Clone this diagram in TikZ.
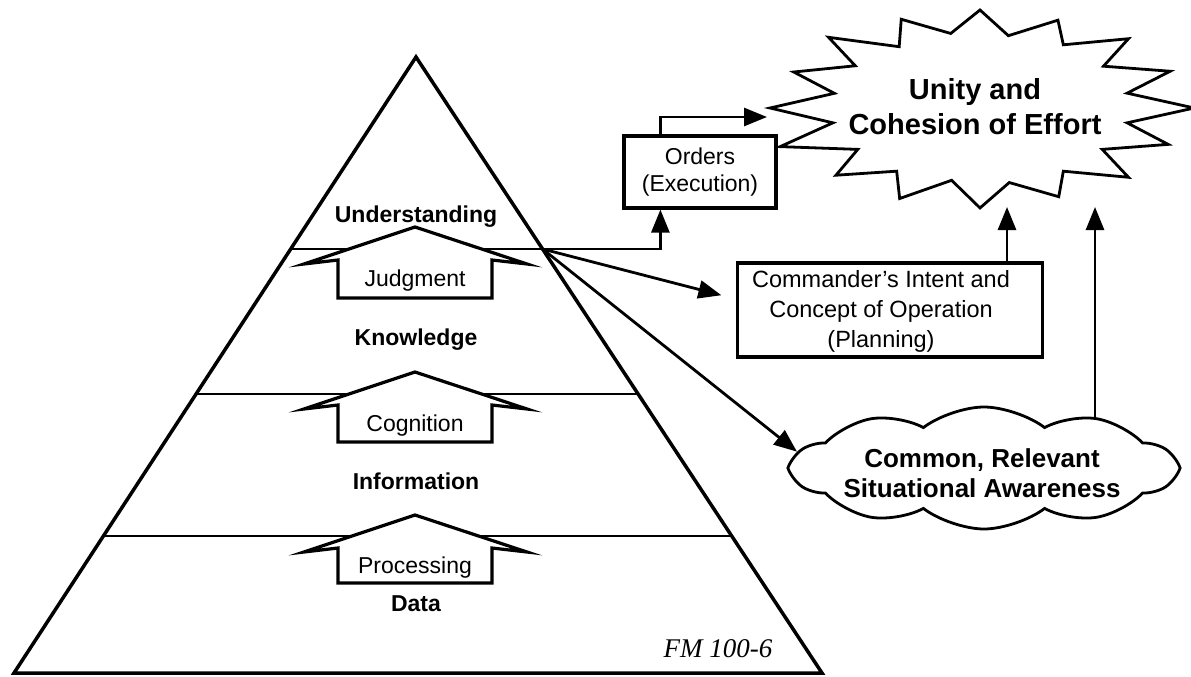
\documentclass[tikz,border=0pt]{standalone}
\usepackage{fontspec}
\setmainfont{Liberation Sans}
\newfontfamily\fmfont{Liberation Serif}
\usetikzlibrary{arrows.meta,shapes.symbols,calc}
\begin{document}
\begin{tikzpicture}[x=1pt,y=-1pt,
  lvl/.style={font=\fontsize{23}{28}\selectfont\bfseries, anchor=base},
  txt/.style={font=\fontsize{23}{27}\selectfont, align=center},
  box/.style={draw, line width=3.2pt, fill=white, inner sep=0pt},
  arr/.style={line width=2.8pt, -{Triangle[length=23pt,width=18pt]}},
  blk/.style={draw, line width=3.2pt, fill=white, line join=miter}]
\useasboundingbox (0,0) rectangle (1191,677);
% pyramid
\coordinate (apex) at (416,57);
\coordinate (bl) at (14,673);
\coordinate (br) at (822,673);
\draw[line width=3.5pt, line join=miter] (apex) -- (bl) -- (br) -- cycle;
\foreach \t in {0.3117,0.5471,0.7776}
  \draw[line width=2.4pt] ($(apex)!\t!(bl)$) -- ($(apex)!\t!(br)$);
\coordinate (P) at ($(apex)!0.3117!(br)$);
% block arrows
\foreach \py/\by/\lab/\nm in {227/298/Judgment/ja,372/442/Cognition/ca,515/583/Processing/pa}{
  \draw[blk] (415,\py) -- (527,\py+37) -- (492,\py+33) -- (492,\by) -- (338,\by) -- (338,\py+33) -- (304,\py+37) -- cycle;
  \node[txt] (\nm) at (415,{(\py+37+\by)/2}) {\lab};
}
% level labels
\node[lvl] (und) at (416,222) {Understanding};
\node[lvl] (kno) at (416,345) {Knowledge};
\node[lvl] (inf) at (416,489) {Information};
\node[lvl] (dat) at (416,611) {Data};
\node[font=\fmfont\itshape\fontsize{27}{30}\selectfont, anchor=base] (fm) at (718,657) {FM 100-6};
% starburst
\draw[line width=2.8pt, line join=miter, fill=white]
  ({980+210*cos(90)},{108-98*sin(90)})
  \foreach \a/\f/\g in {90/1.0/0.98,112.5/0.97/1.02,135/1.0/0.96,157.5/0.99/1.0,180/1.0/1.03,202.5/0.98/0.97,225/1.0/1.0,247.5/0.97/1.02,270/1.0/0.98,292.5/1.0/1.0,315/0.98/0.97,337.5/1.0/1.02,360/1.0/0.98,382.5/0.99/1.0,405/1.0/0.97,427.5/0.97/1.0}{
    -- ({980+150*\f*cos(\a+11.25)},{108-76*\f*sin(\a+11.25)})
    -- ({980+210*\g*cos(\a+22.5)},{108-98*\g*sin(\a+22.5)})
  } -- cycle;
\node[font=\fontsize{29}{35}\selectfont\bfseries, align=center] (ub) at (975,107) {Unity and\\Cohesion of Effort};
\coordinate (sbl) at (767,117);
\coordinate (t1) at (1007,207);
\coordinate (t2) at (1095,207);
% boxes
\node[box, txt, minimum width=152pt, minimum height=72pt] (or) at (700,172) {Orders\\(Execution)};
\node[box, minimum width=305pt, minimum height=94pt] (ci) at (890,310) {};
\node[txt, font=\fontsize{23.5}{30}\selectfont] (cit) at (881,311) {Commander’s Intent and\\Concept of Operation\\(Planning)};
% cloud
\node[cloud, draw, line width=2.8pt, cloud puffs=10, cloud puff arc=75, cloud ignores aspect,
  minimum width=382pt, minimum height=122pt, fill=white] (sa) at (984,468) {};
\node[font=\fontsize{26}{30}\selectfont\bfseries, align=center] (sat) at (982,473) {Common, Relevant\\Situational Awareness};
% connectors
\draw[arr] (P) -| ([xshift=38pt]or.south west);
\draw[arr] ([xshift=38pt]or.north west) |- (sbl);
\draw[arr, shorten >=15pt] (P) -- ([yshift=11pt]ci.west);
\draw[arr] (P) -- (sa.175);
\draw[arr] (ci.north -| t1) -- (t1);
\draw[arr] (sa.25 -| t2) -- (t2);
\end{tikzpicture}
\end{document}
